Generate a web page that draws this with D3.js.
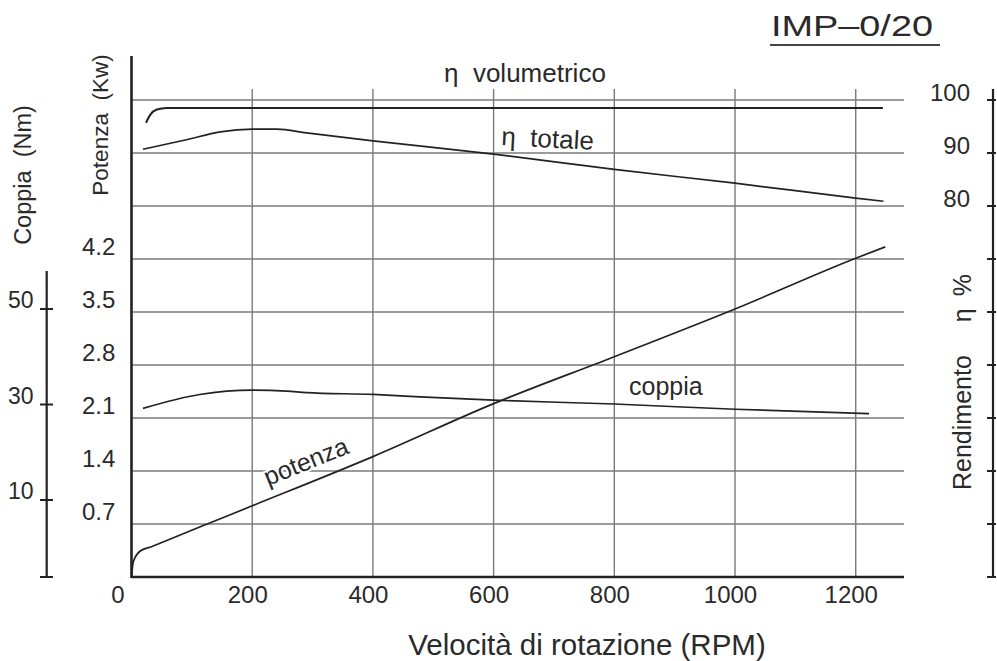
<!DOCTYPE html>
<html>
<head>
<meta charset="utf-8">
<script src="https://cdn.jsdelivr.net/npm/d3@7/dist/d3.min.js"></script>
<style>
  html, body { margin: 0; padding: 0; background: #fff; }
  svg text { font-family: "Liberation Sans", Arial, sans-serif; fill: #2a2a2a; }
</style>
</head>
<body>
<svg id="chart" width="997" height="661"></svg>
<script>
// ---------- data ----------
const titleText = "IMP\u20130/20";
const xTitle = "Velocit\u00e0 di rotazione (RPM)";
const rpmTicks = [0, 200, 400, 600, 800, 1000, 1200];
const kwGridLevels = [0.7, 1.4, 2.1, 2.8, 3.5, 4.2, 4.9, 5.6, 6.3];
const kwTickLabels = [0.7, 1.4, 2.1, 2.8, 3.5, 4.2];
const etaTickLevels = [100, 90, 80, 70, 60, 50, 40, 30, 20, 10];
const etaTickLabels = [100, 90, 80];
const nmTicks = [10, 30, 50];

// eta volumetrico (%)
const etaVolRpm = [24, 31, 42, 58, 100, 400, 800, 1245];
const etaVolVal = [95.7, 97.2, 98.2, 98.5, 98.5, 98.5, 98.5, 98.5];
// eta totale (%)
const etaTotRpm = [19, 91, 147, 201, 241, 290, 400, 600, 800, 1000, 1200, 1246];
const etaTotVal = [90.7, 92.5, 94.0, 94.5, 94.5, 93.8, 92.3, 89.8, 86.9, 84.3, 81.5, 80.9];
// coppia (Nm)
const coppiaRpm = [19, 113, 201, 257, 290, 400, 478, 600, 800, 1000, 1222];
const coppiaVal = [29.2, 32.1, 33.0, 32.8, 32.5, 32.1, 31.6, 30.9, 30.1, 29.0, 28.1];
// potenza (kW)
const potRpm = [0, 3, 14, 33, 113, 200, 400, 600, 800, 1000, 1200, 1249];
const potVal = [0, 0.2, 0.34, 0.40, 0.66, 0.94, 1.59, 2.29, 2.91, 3.54, 4.21, 4.36];

// ---------- scales ----------
const svg = d3.select("#chart");
const x = d3.scaleLinear().domain([0, 1280]).range([131.5, 904]);
const yKw = d3.scaleLinear().domain([0, 6.3]).range([577, 100]);
const yEta = d3.scaleLinear().domain([10, 100]).range([577, 100]);
const yNm = d3.scaleLinear().domain([10, 50]).range([500, 309]);

const gridColor = "#7a7a7a";
const inkColor = "#222";
const fontFam = "'Liberation Sans', Arial, sans-serif";

// ---------- grid ----------
const grid = svg.append("g");
grid.selectAll("line.h").data(kwGridLevels).join("line")
  .attr("x1", x(0)).attr("x2", x(1280))
  .attr("y1", d => yKw(d)).attr("y2", d => yKw(d))
  .attr("stroke", gridColor).attr("stroke-width", 1.4);
grid.selectAll("line.v").data(rpmTicks.filter(d => d > 0)).join("line")
  .attr("x1", d => x(d)).attr("x2", d => x(d))
  .attr("y1", 89).attr("y2", yKw(0))
  .attr("stroke", gridColor).attr("stroke-width", 1.4);

// ---------- axes ----------
const xAxis = d3.axisBottom(x).tickValues(rpmTicks).tickSize(0).tickPadding(9).tickFormat(d3.format("d"));
const gx = svg.append("g").attr("transform", `translate(0,${yKw(0)})`).call(xAxis);
gx.select(".domain").remove();
gx.selectAll("text").attr("font-size", 24).attr("dy", "0.71em")
  .attr("dx", d => d === 0 ? -14 : -5)
  .style("font-family", fontFam).attr("fill", "#2a2a2a");
svg.append("line").attr("x1", x(0)).attr("x2", x(1280)).attr("y1", yKw(0)).attr("y2", yKw(0))
  .attr("stroke", inkColor).attr("stroke-width", 2.4);

// left main axis (potenza)
svg.append("line").attr("x1", x(0)).attr("x2", x(0)).attr("y1", 56).attr("y2", yKw(0) + 1)
  .attr("stroke", inkColor).attr("stroke-width", 2.6);
svg.append("g").selectAll("text").data(kwTickLabels).join("text")
  .attr("x", 82).attr("y", d => yKw(d) - 4)
  .attr("font-size", 24).text(d => d.toFixed(1));

// coppia axis
const nmAxis = svg.append("g");
nmAxis.append("line").attr("x1", 46.7).attr("x2", 46.7).attr("y1", 271).attr("y2", 577)
  .attr("stroke", inkColor).attr("stroke-width", 2.2);
nmAxis.selectAll("line.t").data(nmTicks).join("line")
  .attr("x1", 40).attr("x2", 53).attr("y1", d => yNm(d)).attr("y2", d => yNm(d))
  .attr("stroke", inkColor).attr("stroke-width", 2);
nmAxis.append("line").attr("x1", 40).attr("x2", 53).attr("y1", 577).attr("y2", 577)
  .attr("stroke", inkColor).attr("stroke-width", 2);
nmAxis.selectAll("text").data(nmTicks).join("text")
  .attr("x", 8).attr("y", d => yNm(d) - 1)
  .attr("font-size", 23).text(d => d);

// right axis (rendimento)
const etaAxis = d3.axisLeft(yEta).tickValues(etaTickLevels).tickSize(0)
  .tickFormat(d => etaTickLabels.includes(d) ? d : "");
const gy = svg.append("g").attr("transform", "translate(993,0)").call(etaAxis);
gy.select(".domain").remove();
gy.selectAll("text").attr("font-size", 24).attr("dy", "0").attr("x", -23)
  .style("font-family", fontFam).attr("fill", "#2a2a2a");
svg.append("line").attr("x1", 993).attr("x2", 993).attr("y1", 89).attr("y2", 577)
  .attr("stroke", inkColor).attr("stroke-width", 2.2);
svg.append("g").selectAll("line").data(etaTickLevels).join("line")
  .attr("x1", 987).attr("x2", 996).attr("y1", d => yEta(d)).attr("y2", d => yEta(d))
  .attr("stroke", inkColor).attr("stroke-width", 2);

// ---------- curves ----------
const lineGen = (xs, ys, yScale) => d3.line().curve(d3.curveMonotoneX)
  .x((d, i) => x(xs[i])).y((d, i) => yScale(ys[i]))(xs);

svg.append("path").attr("d", lineGen(etaVolRpm, etaVolVal, yEta))
  .attr("fill", "none").attr("stroke", inkColor).attr("stroke-width", 2);
svg.append("path").attr("d", lineGen(etaTotRpm, etaTotVal, yEta))
  .attr("fill", "none").attr("stroke", inkColor).attr("stroke-width", 1.7);
svg.append("path").attr("d", lineGen(coppiaRpm, coppiaVal, yNm))
  .attr("fill", "none").attr("stroke", inkColor).attr("stroke-width", 1.7);
svg.append("path").attr("d", lineGen(potRpm, potVal, yKw))
  .attr("fill", "none").attr("stroke", inkColor).attr("stroke-width", 1.7);

// ---------- curve labels ----------
svg.append("text").attr("x", 444).attr("y", 82).attr("font-size", 26)
  .attr("xml:space", "preserve").text("\u03b7  volumetrico");
svg.append("text").attr("x", 501).attr("y", 145).attr("font-size", 26)
  .attr("transform", "rotate(3,501,145)")
  .attr("xml:space", "preserve").text("\u03b7  totale");
svg.append("text").attr("x", 629).attr("y", 395).attr("font-size", 25).text("coppia");
svg.append("text").attr("x", 268).attr("y", 486).attr("font-size", 25)
  .attr("transform", "rotate(-22,268,486)")
  .attr("stroke", "#fff").attr("stroke-width", 4).attr("paint-order", "stroke")
  .text("potenza");

// ---------- axis titles ----------
svg.append("text").attr("transform", "translate(31,175) rotate(-90)")
  .attr("text-anchor", "middle").attr("font-size", 23.5).attr("xml:space", "preserve").text("Coppia  (Nm)");
svg.append("text").attr("transform", "translate(108,125) rotate(-90)")
  .attr("text-anchor", "middle").attr("font-size", 22.5).attr("xml:space", "preserve").text("Potenza  (Kw)");
const rt = svg.append("text").attr("transform", "translate(971,490) rotate(-90)")
  .attr("font-size", 25);
rt.append("tspan").text("Rendimento");
rt.append("tspan").attr("dx", 33).text("\u03b7");
rt.append("tspan").attr("dx", 12).text("%");
svg.append("text").attr("x", 587).attr("y", 655).attr("text-anchor", "middle")
  .attr("font-size", 29.5).text(xTitle);

// ---------- title ----------
svg.append("text").attr("x", 771).attr("y", 36)
  .attr("font-size", 30).attr("textLength", 162).attr("lengthAdjust", "spacingAndGlyphs").text(titleText);
svg.append("line").attr("x1", 770).attr("x2", 940).attr("y1", 45).attr("y2", 45)
  .attr("stroke", "#444").attr("stroke-width", 1.8);
</script>
</body>
</html>
